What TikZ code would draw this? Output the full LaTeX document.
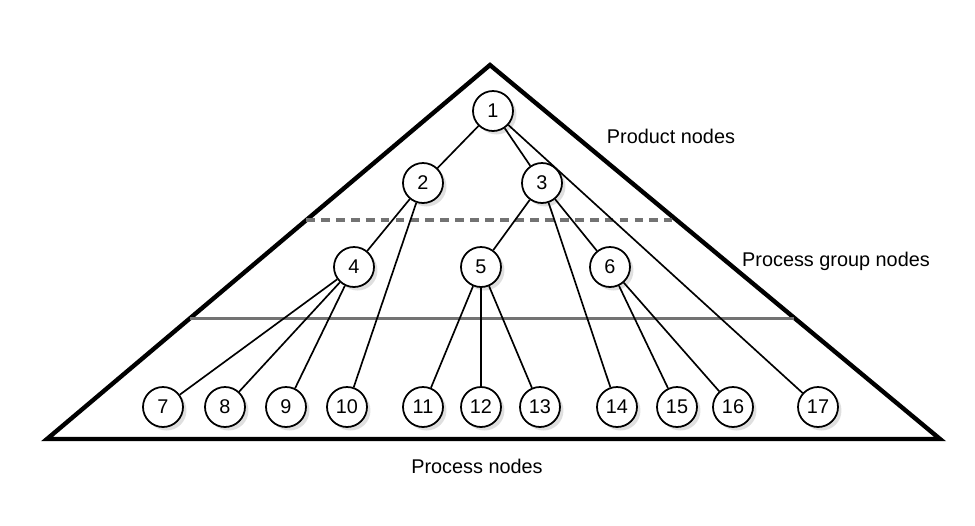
\documentclass[tikz,border=0pt]{standalone}
\usepackage{fontspec}
\setmainfont{Liberation Sans}
\usepackage{tikz}
\usetikzlibrary{shadows}

\begin{document}
\begin{tikzpicture}
  [x=0.02cm,y=-0.02cm,
   vertex/.style={circle,draw,line width=1pt,fill=white,inner sep=0pt,minimum size=0.8cm,
     font=\fontsize{11.3}{13}\selectfont,
     drop shadow={shadow xshift=0.07cm,shadow yshift=-0.07cm,fill=black!25}},
   caption/.style={inner sep=0pt,font=\fontsize{11.3}{13}\selectfont},
   tree/.style={line width=0.95pt}]

  \useasboundingbox (0,0) rectangle (975,525);

  % pyramid and level lines
  \coordinate (top) at (490,65);
  \coordinate (bl) at (47,439);
  \coordinate (br) at (940,439);
  \draw[line width=2.5pt,line join=miter] (bl) -- (top) -- (br) -- cycle;
  \coordinate (d1) at (306,220);
  \coordinate (d2) at (672,220);
  \draw[black!55,line width=2pt,dash pattern=on 5pt off 3.5pt] (d1) -- (d2);
  \coordinate (s1) at (190,318);
  \coordinate (s2) at (794,318);
  \draw[black!55,line width=1.7pt] (s1) -- (s2);

  \node[vertex] (n1) at (493,111) {1};
  \node[vertex] (n2) at (423,183) {2};
  \node[vertex] (n3) at (542,183) {3};
  \node[vertex] (n4) at (354,267) {4};
  \node[vertex] (n5) at (481,267) {5};
  \node[vertex] (n6) at (610,267) {6};
  \node[vertex] (n7) at (163,407) {7};
  \node[vertex] (n8) at (225,407) {8};
  \node[vertex] (n9) at (286,407) {9};
  \node[vertex] (n10) at (347,407) {10};
  \node[vertex] (n11) at (423,407) {11};
  \node[vertex] (n12) at (481,407) {12};
  \node[vertex] (n13) at (540,407) {13};
  \node[vertex] (n14) at (617,407) {14};
  \node[vertex] (n15) at (677,407) {15};
  \node[vertex] (n16) at (733,407) {16};
  \node[vertex] (n17) at (818,407) {17};
  \foreach \from/\to in {n1/n2,n1/n3,n1/n17,n2/n4,n2/n10,n3/n5,n3/n14,n3/n6,n4/n7,n4/n8,n4/n9,n5/n11,n5/n12,n5/n13,n6/n15,n6/n16}
    \draw[tree] (\from) -- (\to);

  \node[caption] (product) at (671,136) {Product nodes};
  \node[caption] (group) at (836,261) {Process group nodes};
  \node[caption] (process) at (477,466) {Process nodes};
\end{tikzpicture}
\end{document}
